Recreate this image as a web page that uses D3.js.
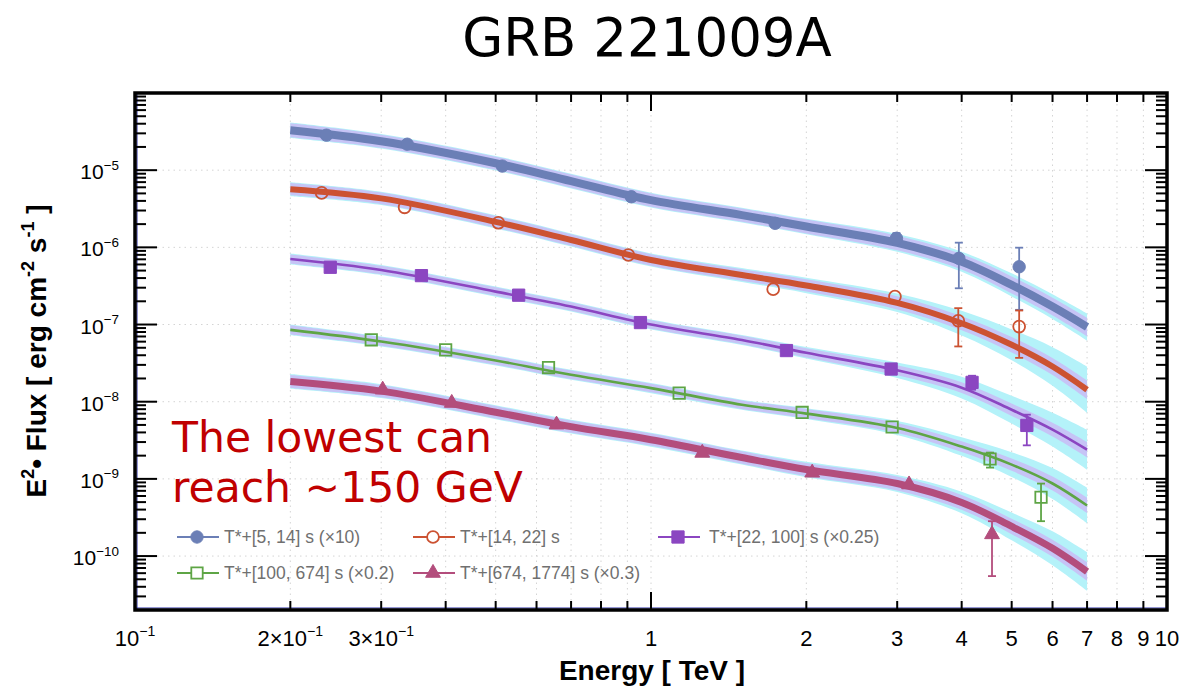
<!DOCTYPE html>
<html>
<head>
<meta charset="utf-8">
<script src="https://cdn.jsdelivr.net/npm/d3@7"></script>
<style>
body { margin: 0; background: #fff; }
svg { display: block; }
</style>
</head>
<body>
<svg id="chart" width="1204" height="692"></svg>
<script>
// series labels
var seriesNames = ["T*+[5, 14] s (\u00d710)", "T*+[14, 22] s", "T*+[22, 100] s (\u00d70.25)",
                   "T*+[100, 674] s (\u00d70.2)", "T*+[674, 1774] s (\u00d70.3)"];

// measured points (energy TeV, E2 flux erg cm-2 s-1, already scaled)
var blueE  = [0.235, 0.337, 0.515, 0.916, 1.74, 2.99, 3.95, 5.17];
var blueF  = [2.84e-5, 2.17e-5, 1.13e-5, 4.52e-6, 2.05e-6, 1.31e-6, 7.2e-7, 5.6e-7];
var blueLo = [null, null, null, null, null, 1.12e-6, 2.95e-7, 1.55e-7];
var blueHi = [null, null, null, null, null, 1.53e-6, 1.15e-6, 9.9e-7];

var redE  = [0.230, 0.333, 0.506, 0.904, 1.725, 2.97, 3.94, 5.17];
var redF  = [5.08e-6, 3.30e-6, 2.08e-6, 7.96e-7, 2.87e-7, 2.30e-7, 1.12e-7, 9.4e-8];
var redLo = [null, null, null, null, null, null, 5.2e-8, 3.7e-8];
var redHi = [null, null, null, null, null, null, 1.63e-7, 1.52e-7];

var purpleE  = [0.239, 0.359, 0.554, 0.954, 1.83, 2.92, 4.19, 5.35];
var purpleF  = [5.52e-7, 4.30e-7, 2.40e-7, 1.06e-7, 4.60e-8, 2.65e-8, 1.78e-8, 4.93e-9];
var purpleLo = [null, null, null, null, null, null, 1.43e-8, 2.72e-9];
var purpleHi = [null, null, null, null, null, null, 2.17e-8, 6.79e-9];

var greenE  = [0.287, 0.400, 0.633, 1.134, 1.963, 2.933, 4.54, 5.70];
var greenF  = [6.34e-8, 4.70e-8, 2.77e-8, 1.29e-8, 7.26e-9, 4.70e-9, 1.81e-9, 5.78e-10];
var greenLo = [null, null, null, null, null, null, 1.40e-9, 2.83e-10];
var greenHi = [null, null, null, null, null, null, 2.19e-9, 8.69e-10];

var pinkE  = [0.302, 0.411, 0.656, 1.257, 2.053, 3.163, 4.58];
var pinkF  = [1.43e-8, 9.62e-9, 5.04e-9, 2.17e-9, 1.20e-9, 8.45e-10, 1.91e-10];
var pinkLo = [null, null, null, null, null, null, 5.5e-11];
var pinkHi = [null, null, null, null, null, null, 2.83e-10];

// fitted model curves, read at these energies
var curveE    = [0.2, 0.3, 0.5, 0.7, 1, 1.5, 2, 3, 4, 5, 6, 7];
var blueFit   = [3.29e-5, 2.37e-5, 1.23e-5, 7.21e-6, 4.09e-6, 2.62e-6, 1.86e-6, 1.14e-6, 6.5e-7, 3.26e-7, 1.71e-7, 9.3e-8];
var redFit    = [5.67e-6, 4.31e-6, 2.14e-6, 1.245e-6, 6.86e-7, 4.38e-7, 3.21e-7, 1.91e-7, 1.04e-7, 5.46e-8, 2.86e-8, 1.43e-8];
var purpleFit = [7.06e-7, 5.09e-7, 2.67e-7, 1.71e-7, 1.0e-7, 6.3e-8, 4.3e-8, 2.55e-8, 1.52e-8, 7.87e-9, 4.35e-9, 2.39e-9];
var greenFit  = [8.53e-8, 6.03e-8, 3.42e-8, 2.23e-8, 1.50e-8, 9.14e-9, 7.0e-9, 4.57e-9, 2.62e-9, 1.53e-9, 8.71e-10, 4.52e-10];
var pinkFit   = [1.83e-8, 1.37e-8, 7.31e-9, 4.75e-9, 3.22e-9, 1.89e-9, 1.32e-9, 8.71e-10, 4.95e-10, 2.42e-10, 1.26e-10, 6.3e-11];

// uncertainty bands, half width in decades (inner lavender, outer cyan)
var blueLav    = [0.09, 0.085, 0.085, 0.085, 0.085, 0.085, 0.09, 0.095, 0.1, 0.11, 0.115, 0.12];
var blueCyan   = [0.1, 0.095, 0.095, 0.095, 0.095, 0.095, 0.1, 0.115, 0.13, 0.15, 0.16, 0.175];
var redLav     = [0.08, 0.075, 0.075, 0.075, 0.075, 0.075, 0.08, 0.085, 0.09, 0.1, 0.11, 0.12];
var redCyan    = [0.09, 0.085, 0.085, 0.085, 0.085, 0.09, 0.1, 0.12, 0.16, 0.2, 0.25, 0.3];
var purpleLav  = [0.06, 0.055, 0.055, 0.055, 0.055, 0.055, 0.06, 0.065, 0.07, 0.08, 0.09, 0.1];
var purpleCyan = [0.07, 0.065, 0.065, 0.065, 0.065, 0.065, 0.075, 0.1, 0.14, 0.18, 0.22, 0.26];
var greenLav   = [0.06, 0.055, 0.055, 0.055, 0.055, 0.055, 0.06, 0.065, 0.07, 0.08, 0.09, 0.1];
var greenCyan  = [0.07, 0.065, 0.065, 0.065, 0.065, 0.065, 0.07, 0.09, 0.12, 0.16, 0.2, 0.23];
var pinkLav    = [0.085, 0.08, 0.08, 0.08, 0.08, 0.08, 0.085, 0.09, 0.095, 0.1, 0.11, 0.12];
var pinkCyan   = [0.095, 0.09, 0.09, 0.09, 0.09, 0.09, 0.1, 0.11, 0.14, 0.18, 0.22, 0.25];

// tick labels
var xLabelVals = [0.1, 0.2, 0.3, 1, 2, 3, 4, 5, 6, 7, 8, 9, 10];
var xLabelText = ["10^\u22121", "2\u00d710^\u22121", "3\u00d710^\u22121", "1", "2", "3", "4", "5", "6", "7", "8", "9", "10"];
var yLabelVals = [1e-10, 1e-9, 1e-8, 1e-7, 1e-6, 1e-5];
var yLabelText = ["10^\u221210", "10^\u22129", "10^\u22128", "10^\u22127", "10^\u22126", "10^\u22125"];

var series = [
    {name: seriesNames[0], E: blueE, F: blueF, lo: blueLo, hi: blueHi, fit: blueFit, lav: blueLav, cyan: blueCyan,
     color: "#6b7fb6", lw: 8, sym: "circle", fill: true},
    {name: seriesNames[1], E: redE, F: redF, lo: redLo, hi: redHi, fit: redFit, lav: redLav, cyan: redCyan,
     color: "#cc5232", lw: 6, sym: "circle", fill: false},
    {name: seriesNames[2], E: purpleE, F: purpleF, lo: purpleLo, hi: purpleHi, fit: purpleFit, lav: purpleLav, cyan: purpleCyan,
     color: "#8b46c1", lw: 2.6, sym: "square", fill: true},
    {name: seriesNames[3], E: greenE, F: greenF, lo: greenLo, hi: greenHi, fit: greenFit, lav: greenLav, cyan: greenCyan,
     color: "#5ea545", lw: 2.6, sym: "square", fill: false},
    {name: seriesNames[4], E: pinkE, F: pinkF, lo: pinkLo, hi: pinkHi, fit: pinkFit, lav: pinkLav, cyan: pinkCyan,
     color: "#b34d7c", lw: 7, sym: "triangle", fill: true}
];

var plotL = 135, plotR = 1167, plotT = 93, plotB = 610;
var svg = d3.select('#chart');

var x = d3.scaleLog().domain([0.1, 10]).range([plotL, plotR]);
var y = d3.scaleLog().domain([2e-11, 1e-4]).range([plotB, plotT]);
var smooth = d3.curveCatmullRom.alpha(0.5);

// title
svg.append('text')
    .attr('x', 647).attr('y', 56)
    .attr('text-anchor', 'middle')
    .style('font-family', 'DejaVu Sans, Verdana, sans-serif')
    .style('font-size', '53px')
    .text('GRB 221009A');

// minor tick positions
var xMinor = [], yMinor = [];
[0.1, 1].forEach(function(d) {
    for (var k = 2; k <= 9; k++) xMinor.push(d * k);
});
for (var p = -11; p <= -5; p++) {
    for (var k = 2; k <= 9; k++) {
        var v = k * Math.pow(10, p);
        if (v >= 2e-11 && v <= 1e-4) yMinor.push(v);
    }
}

// grid
var grid = svg.append('g').attr('stroke', '#d4d4d4').attr('stroke-dasharray', '1.5,4').attr('stroke-width', 1);
xMinor.concat([1]).forEach(function(d) {
    grid.append('line').attr('x1', x(d)).attr('x2', x(d)).attr('y1', plotT).attr('y2', plotB);
});
yLabelVals.forEach(function(d) {
    grid.append('line').attr('x1', plotL).attr('x2', plotR).attr('y1', y(d)).attr('y2', y(d));
});

// bands
var plot = svg.append('g');
function band(s, key) {
    return d3.area()
        .x(function(d, i) { return x(curveE[i]); })
        .y0(function(d, i) { return y(d * Math.pow(10, -s[key][i])); })
        .y1(function(d, i) { return y(d * Math.pow(10, s[key][i])); })
        .curve(smooth);
}
series.forEach(function(s) {
    plot.append('path').datum(s.fit).attr('d', band(s, 'cyan')).attr('fill', '#b4f2f9');
});
series.forEach(function(s) {
    plot.append('path').datum(s.fit).attr('d', band(s, 'lav')).attr('fill', '#c6c4f6');
});

var line = d3.line()
    .x(function(d, i) { return x(curveE[i]); })
    .y(function(d) { return y(d); })
    .curve(smooth);
series.forEach(function(s) {
    plot.append('path').datum(s.fit).attr('d', line)
        .attr('fill', 'none').attr('stroke', s.color).attr('stroke-width', s.lw);
});

function symbolPath(s) {
    if (s.sym === 'circle') return d3.symbol().type(d3.symbolCircle).size(s.fill ? 120 : 110)();
    if (s.sym === 'square') return d3.symbol().type(d3.symbolSquare).size(s.fill ? 150 : 130)();
    return d3.symbol().type(d3.symbolTriangle).size(95)();
}

// error bars + markers
series.forEach(function(s) {
    var g = plot.append('g');
    s.E.forEach(function(e, i) {
        if (s.lo[i] == null) return;
        g.append('line').attr('x1', x(e)).attr('x2', x(e)).attr('y1', y(s.lo[i])).attr('y2', y(s.hi[i]))
            .attr('stroke', s.color).attr('stroke-width', 1.8);
        [s.lo[i], s.hi[i]].forEach(function(v) {
            g.append('line').attr('x1', x(e) - 4).attr('x2', x(e) + 4).attr('y1', y(v)).attr('y2', y(v))
                .attr('stroke', s.color).attr('stroke-width', 1.8);
        });
    });
    g.selectAll('path.pt').data(s.E).enter().append('path')
        .attr('class', 'pt')
        .attr('d', symbolPath(s))
        .attr('transform', function(d, i) { return 'translate(' + x(d) + ',' + y(s.F[i]) + ')'; })
        .attr('fill', s.fill ? s.color : 'none')
        .attr('stroke', s.color)
        .attr('stroke-width', s.fill ? 1 : 1.8);
});

// frame
svg.append('line').attr('x1', plotL + 2).attr('x2', plotL + 2).attr('y1', plotT).attr('y2', plotB)
    .attr('stroke', '#2b2fa8').attr('stroke-width', 1);
svg.append('line').attr('x1', plotL).attr('x2', plotR).attr('y1', plotB - 2).attr('y2', plotB - 2)
    .attr('stroke', '#2b2fa8').attr('stroke-width', 1);
svg.append('rect').attr('x', plotL).attr('y', plotT).attr('width', plotR - plotL).attr('height', plotB - plotT)
    .attr('fill', 'none').attr('stroke', '#000').attr('stroke-width', 3.5);

// ticks
var ticks = svg.append('g').attr('stroke', '#000').attr('stroke-width', 2);
xMinor.forEach(function(d) {
    ticks.append('line').attr('x1', x(d)).attr('x2', x(d)).attr('y1', plotB).attr('y2', plotB - 9);
    ticks.append('line').attr('x1', x(d)).attr('x2', x(d)).attr('y1', plotT).attr('y2', plotT + 9);
});
ticks.append('line').attr('x1', x(1)).attr('x2', x(1)).attr('y1', plotB).attr('y2', plotB - 18);
ticks.append('line').attr('x1', x(1)).attr('x2', x(1)).attr('y1', plotT).attr('y2', plotT + 18);
yMinor.forEach(function(d) {
    ticks.append('line').attr('x1', plotL).attr('x2', plotL + 11).attr('y1', y(d)).attr('y2', y(d));
    ticks.append('line').attr('x1', plotR).attr('x2', plotR - 11).attr('y1', y(d)).attr('y2', y(d));
});
yLabelVals.forEach(function(d) {
    ticks.append('line').attr('x1', plotL).attr('x2', plotL + 22).attr('y1', y(d)).attr('y2', y(d));
    ticks.append('line').attr('x1', plotR).attr('x2', plotR - 22).attr('y1', y(d)).attr('y2', y(d));
});

// labels with superscripts ("a^b")
function supText(sel, str, sz) {
    var parts = str.split('^');
    sel.append('tspan').text(parts[0]);
    if (parts.length > 1) {
        sel.append('tspan').attr('dy', -sz * 0.45).style('font-size', (sz * 0.64) + 'px').text(parts[1]);
    }
}
var font = 'Liberation Sans, Arial, Helvetica, sans-serif';
xLabelVals.forEach(function(d, i) {
    var t = svg.append('text').attr('x', x(d)).attr('y', 646)
        .attr('text-anchor', 'middle')
        .style('font-family', font).style('font-size', '22px');
    supText(t, xLabelText[i], 22);
});
yLabelVals.forEach(function(d, i) {
    var t = svg.append('text').attr('x', 119).attr('y', y(d) + 9)
        .attr('text-anchor', 'end')
        .style('font-family', font).style('font-size', '21px');
    supText(t, yLabelText[i], 21);
});

// axis titles
svg.append('text').attr('x', 652).attr('y', 680)
    .attr('text-anchor', 'middle')
    .style('font-family', font).style('font-size', '28px').style('font-weight', 'bold')
    .text('Energy [ TeV ]');
var yt = svg.append('text')
    .attr('transform', 'translate(46,351) rotate(-90)')
    .attr('text-anchor', 'middle')
    .style('font-family', font).style('font-size', '28px').style('font-weight', 'bold');
yt.append('tspan').text('E');
yt.append('tspan').attr('dy', -12).style('font-size', '18px').text('2');
yt.append('tspan').attr('dy', 12).text('\u2022 Flux [ erg cm');
yt.append('tspan').attr('dy', -12).style('font-size', '18px').text('-2');
yt.append('tspan').attr('dy', 12).text(' s');
yt.append('tspan').attr('dy', -12).style('font-size', '18px').text('-1');
yt.append('tspan').attr('dy', 12).text(' ]');

// annotation
var note = svg.append('text')
    .style('font-family', 'DejaVu Sans, Verdana, sans-serif')
    .style('font-size', '42.5px')
    .attr('fill', '#c00000');
note.append('tspan').attr('x', 172).attr('y', 452).text('The lowest can');
note.append('tspan').attr('x', 172).attr('y', 502).text('reach ~150 GeV');

// legend
var legX = [177, 413, 658, 177, 413];
var legY = [537, 537, 537, 573, 573];
series.forEach(function(s, i) {
    var g = svg.append('g').attr('transform', 'translate(' + legX[i] + ',' + legY[i] + ')');
    g.append('line').attr('x1', 0).attr('x2', 42).attr('y1', 0).attr('y2', 0)
        .attr('stroke', s.color).attr('stroke-width', 1.8);
    g.append('path').attr('d', symbolPath(s)).attr('transform', 'translate(20,0)')
        .attr('fill', s.fill ? s.color : '#fff').attr('stroke', s.color)
        .attr('stroke-width', s.fill ? 1 : 1.8);
    g.append('text').attr('x', i === 2 ? 51 : 47).attr('y', 6)
        .style('font-family', font).style('font-size', '17.5px').attr('fill', '#707070')
        .text(s.name);
});
</script>
</body>
</html>
